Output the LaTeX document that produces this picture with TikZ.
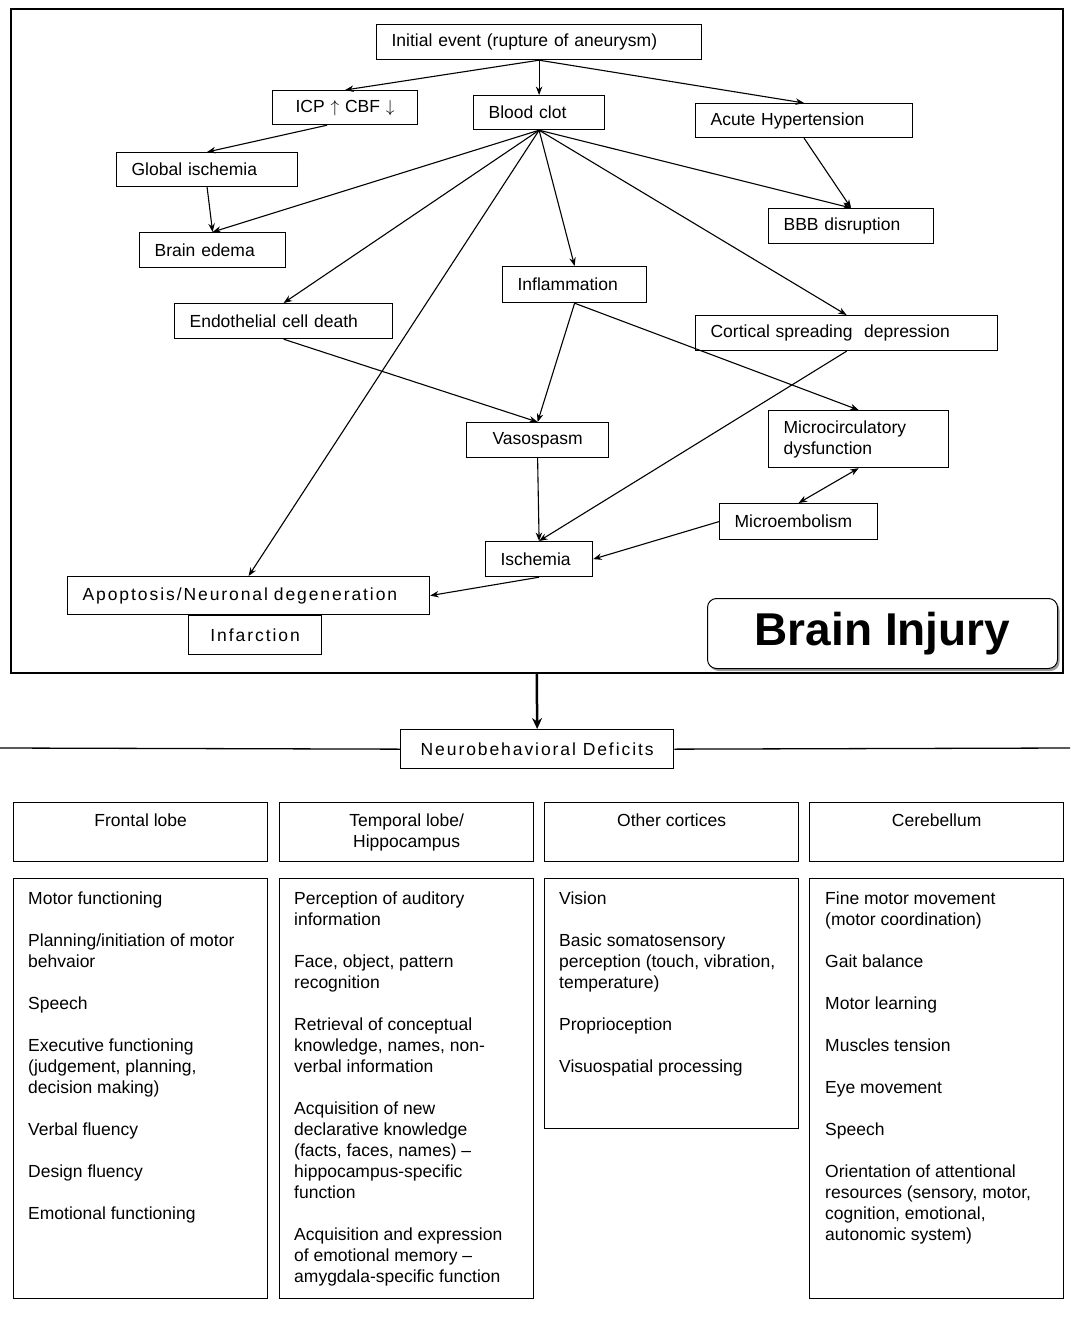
\documentclass[tikz,border=0pt]{standalone}
\usepackage{fontspec}
\setmainfont{Liberation Sans}
\newfontfamily\widefont[LetterSpace=11]{Liberation Sans}
\usetikzlibrary{arrows.meta,shadows}

\begin{document}
\begin{tikzpicture}[x=1pt,y=-1pt,>={Stealth[length=8.5pt,width=6.5pt]},
  ev/.style={draw,line width=1.2pt,anchor=north west,inner xsep=15pt,inner ysep=0pt,minimum height=35pt,align=left,font=\fontsize{17.5}{21}\selectfont},
  arr/.style={->,line width=1.1pt},
  headbox/.style={draw,line width=1.3pt,anchor=north west,minimum width=254pt,minimum height=59pt,inner sep=0pt},
  listbox/.style={draw,line width=1.3pt,anchor=north west,minimum width=254pt,inner sep=0pt},
  headtxt/.style={anchor=north,align=center,inner sep=0pt,font=\fontsize{17.5}{21}\selectfont},
  listtxt/.style={anchor=north west,align=left,inner sep=0pt,font=\fontsize{17.5}{21}\selectfont}]

\useasboundingbox (0,0) rectangle (1070,1329);

% brain injury part
\node[draw,line width=1.6pt,minimum width=1052pt,minimum height=664pt,anchor=north west,inner sep=0pt] (frame) at (10,8) {};

\node[ev,text width=295pt] (init) at (376,24) {Initial event (rupture of aneurysm)};
\node[ev,text width=115pt,align=center,minimum height=34pt] (icp) at (272,90) {ICP $\uparrow$ CBF $\downarrow$};
\node[ev,text width=101pt,minimum height=34pt] (clot) at (473,95) {Blood clot};
\node[ev,text width=187pt,minimum height=34pt] (hyper) at (695,103) {Acute Hypertension};
\node[ev,text width=151pt,minimum height=34pt] (global) at (116,152) {Global ischemia};
\node[ev,text width=135pt] (bbb) at (768,208) {BBB disruption};
\node[ev,text width=116pt] (edema) at (139,232) {Brain edema};
\node[ev,text width=114pt,minimum height=36pt] (infl) at (502,266) {Inflammation};
\node[ev,text width=188pt] (endo) at (174,303) {Endothelial cell death};
\node[ev,text width=272pt] (csd) at (695,315) {Cortical spreading~ depression};
\node[ev,text width=112pt,align=center] (vaso) at (466,422) {Vasospasm};
\node[ev,text width=150pt,minimum height=57pt] (micro) at (768,410) {Microcirculatory\\dysfunction};
\node[ev,text width=128pt,minimum height=36pt] (emb) at (719,503) {Microembolism};
\node[ev,text width=77pt] (isch) at (485,541) {Ischemia};
\node[ev,text width=332pt,minimum height=38pt,font=\fontsize{17.5}{21}\selectfont\widefont] (apop) at (67,576) {Apoptosis/Neuronal degeneration};
\node[ev,text width=103pt,align=center,minimum height=39pt,font=\fontsize{17.5}{21}\selectfont\widefont] (infarct) at (188,615) {Infarction};

\node[draw,line width=1pt,rounded corners=9pt,minimum width=350pt,minimum height=70pt,anchor=north west,fill=white,
  drop shadow={shadow xshift=2pt,shadow yshift=-2.5pt,fill=gray!75,opacity=1}] (injury) at (707,598) {\raisebox{-2pt}{\fontsize{46}{52}\selectfont\bfseries Brain Injury}};

\draw[arr] (init.south) -- (icp.north);
\draw[arr] (init.south) -- (clot.north);
\draw[arr] (init.south) -- (hyper.north);
\draw[arr] ([xshift=-18pt]icp.south) -- (global.north);
\draw[arr] (global.south) -- (edema.north);
\draw[arr] (clot.south) -- (edema.north);
\draw[arr] (clot.south) -- (endo.north);
\draw[arr] (clot.south) -- (apop.north);
\draw[arr] (clot.south) -- (infl.north);
\draw[arr] (clot.south) -- (bbb.north);
\draw[arr] (clot.south) -- (csd.north);
\draw[arr] (hyper.south) -- (bbb.north);
\draw[arr] (infl.south) -- (vaso.north);
\draw[arr] (infl.south) -- (micro.north);
\draw[arr] (endo.south) -- (vaso.north);
\draw[arr] (csd.south) -- (isch.north);
\draw[arr] (vaso.south) -- (isch.north);
\draw[arr,<->] (micro.south) -- (emb.north);
\draw[arr] (emb.west) -- (isch.east);
\draw[arr] (isch.south) -- (apop.east);

% deficits part
\node[draw,line width=1.3pt,minimum width=273pt,minimum height=39pt,anchor=north west,inner sep=0pt,font=\fontsize{17.5}{21}\selectfont\widefont] (neuro) at (400,729) {Neurobehavioral Deficits};
\draw[line width=2.5pt,-{Stealth[length=11pt,width=10pt]}] (frame.south) -- (neuro.north);
\coordinate (lend) at (0,748);
\coordinate (rend) at (1070,748);
\draw[line width=1.3pt] (lend) -- (neuro.west);
\draw[line width=1.3pt] (neuro.east) -- (rend);

\node[headbox] (hfront) at (13,802) {};
\node[headbox] (htemp) at (279,802) {};
\node[headbox] (hother) at (544,802) {};
\node[headbox] (hcere) at (809,802) {};
\node[headtxt] (tfront) at ([yshift=-12pt]hfront.north) {Frontal lobe};
\node[headtxt] (ttemp) at ([yshift=-12pt]htemp.north) {Temporal lobe/\\Hippocampus};
\node[headtxt] (tother) at ([yshift=-12pt]hother.north) {Other cortices};
\node[headtxt] (tcere) at ([yshift=-12pt]hcere.north) {Cerebellum};

\node[listbox,minimum height=420pt] (lfront) at (13,878) {};
\node[listbox,minimum height=420pt] (ltemp) at (279,878) {};
\node[listbox,minimum height=250pt] (lother) at (544,878) {};
\node[listbox,minimum height=420pt] (lcere) at (809,878) {};

\node[listtxt] (xfront) at ([xshift=15pt,yshift=-14pt]lfront.north west) {Motor functioning\\[21pt]
  Planning/initiation of motor\\behvaior\\[21pt]
  Speech\\[21pt]
  Executive functioning\\(judgement, planning,\\decision making)\\[21pt]
  Verbal fluency\\[21pt]
  Design fluency\\[21pt]
  Emotional functioning};
\node[listtxt] (xtemp) at ([xshift=15pt,yshift=-14pt]ltemp.north west) {Perception of auditory\\information\\[21pt]
  Face, object, pattern\\recognition\\[21pt]
  Retrieval of conceptual\\knowledge, names, non-\\verbal information\\[21pt]
  Acquisition of new\\declarative knowledge\\(facts, faces, names) –\\hippocampus-specific\\function\\[21pt]
  Acquisition and expression\\of emotional memory –\\amygdala-specific function};
\node[listtxt] (xother) at ([xshift=15pt,yshift=-14pt]lother.north west) {Vision\\[21pt]
  Basic somatosensory\\perception (touch, vibration,\\temperature)\\[21pt]
  Proprioception\\[21pt]
  Visuospatial processing};
\node[listtxt] (xcere) at ([xshift=16pt,yshift=-14pt]lcere.north west) {Fine motor movement\\(motor coordination)\\[21pt]
  Gait balance\\[21pt]
  Motor learning\\[21pt]
  Muscles tension\\[21pt]
  Eye movement\\[21pt]
  Speech\\[21pt]
  Orientation of attentional\\resources (sensory, motor,\\cognition, emotional,\\autonomic system)};

\end{tikzpicture}
\end{document}
